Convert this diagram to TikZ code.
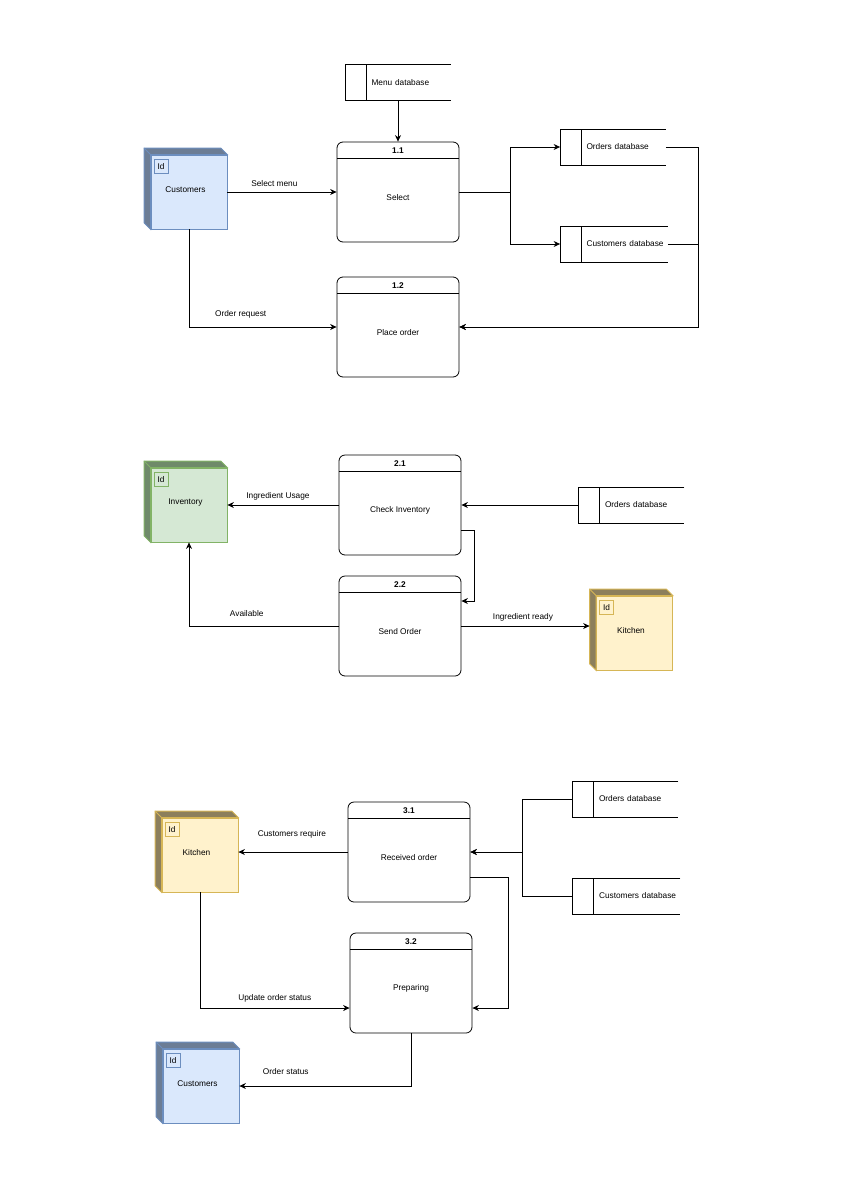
\documentclass[tikz,border=0pt]{standalone}
\usepackage{fontspec}
\setmainfont{Liberation Sans}
\usetikzlibrary{arrows.meta,positioning}

\definecolor{custfill}{HTML}{DAE8FC}
\definecolor{custedge}{HTML}{6C8EBF}
\definecolor{custside}{HTML}{6C7D95}
\definecolor{invfill}{HTML}{D5E8D4}
\definecolor{invedge}{HTML}{82B366}
\definecolor{invside}{HTML}{6F8A6A}
\definecolor{kitfill}{HTML}{FFF2CC}
\definecolor{kitedge}{HTML}{D6B656}
\definecolor{kitside}{HTML}{8C7F5C}

\tikzset{
  every node/.style={font=\fontsize{8.3}{10}\selectfont},
  procbox/.style 2 args={draw, rounded corners=6pt, minimum width=122pt, minimum height=100pt,
    path picture={\draw ([yshift=-16pt]path picture bounding box.north west) -- ([yshift=-16pt]path picture bounding box.north east);},
    label={[font=\fontsize{8.3}{10}\selectfont\bfseries, anchor=center, yshift=-8.7pt]north:#1},
    label={[anchor=center, yshift=-5.7pt]center:#2}},
  storebox/.style={text width=#1, inner sep=0pt, minimum height=35pt, align=left,
    execute at begin node={\hspace*{26pt}}},
  cubebox/.style n args={3}{draw=#2, fill=#3, line width=.8pt, minimum width=76pt, minimum height=74pt,
    label={[anchor=center, xshift=-3.5pt, yshift=2.8pt]center:#1}},
  idbox/.style={draw=#1, line width=.6pt, minimum size=14pt, inner sep=0pt},
  flowlabel/.style={above, inner sep=3pt}
}

\begin{document}
\begin{tikzpicture}[>={Stealth[length=6.5pt,width=6pt]}, on grid, line width=.8pt]
  \useasboundingbox (0,0) rectangle (842pt,-1191pt);
  % first group
  \node[procbox={1.1}{Select}] (p11) at (398pt,-192pt) {};
  \node[procbox={1.2}{Place order}] (p12) [below=135pt of p11] {};
  \node[cubebox={Customers}{custedge}{custfill}] (custa) [left=209pt of p11] {};
  \node[storebox=105pt] (menua) [above=109.5pt of p11] {Menu database};
  \node[storebox=105pt] (ordersa) [above right=45pt and 215pt of p11] {Orders database};
  \node[storebox=107pt] (customersa) [below right=97pt and 1pt of ordersa] {Customers database};
  \coordinate[right=112pt of p11] (junctiona);
  \coordinate[right=300pt of p12] (busa);
  % second group
  \node[procbox={2.1}{Check Inventory}] (p21) [below right=178pt and 2pt of p12] {};
  \node[procbox={2.2}{Send Order}] (p22) [below=121pt of p21] {};
  \node[cubebox={Inventory}{invedge}{invfill}] (inva) [left=211pt of p21] {};
  \node[storebox=105pt] (ordersb) [right=231.5pt of p21] {Orders database};
  \node[cubebox={Kitchen}{kitedge}{kitfill}] (kita) [below right=7pt and 234.5pt of p22] {};
  % third group
  \node[procbox={3.1}{Received order}] (p31) [below right=226pt and 9pt of p22] {};
  \node[procbox={3.2}{Preparing}] (p32) [below right=131pt and 2pt of p31] {};
  \node[cubebox={Kitchen}{kitedge}{kitfill}] (kitb) [below left=3pt and 209pt of p31] {};
  \node[cubebox={Customers}{custedge}{custfill}] (custb) [below left=103pt and 210pt of p32] {};
  \node[storebox=105pt] (ordersc) [above right=53pt and 216.5pt of p31] {Orders database};
  \node[storebox=107pt] (customersc) [below right=97pt and 1pt of ordersc] {Customers database};
  \coordinate[right=113pt of p31] (busb);

  % side faces and Id boxes of the cubes
  \foreach \n/\e/\s in {custa/custedge/custside, inva/invedge/invside, kita/kitedge/kitside,
                        kitb/kitedge/kitside, custb/custedge/custside} {
    \filldraw[draw=\e, fill=\s] (\n.north east) -- ++(-6.5pt,6.5pt) -| ([shift={(-6.5pt,6.5pt)}]\n.south west)
      -- (\n.south west) -- (\n.north west) -- cycle;
    \draw[\e] (\n.north west) -- ++(-6.5pt,6.5pt);
    \node[idbox=\e] (\n id) at ([shift={(10.5pt,-11.5pt)}]\n.north west) {Id};
  }
  % data stores
  \foreach \n in {menua, ordersa, customersa, ordersb, ordersc, customersc} {
    \draw (\n.north east) -- (\n.north west) -- (\n.south west) -- (\n.south east);
    \draw ([xshift=21pt]\n.north west) -- ([xshift=21pt]\n.south west);
  }

  \draw[->] (custa.east) -- node[flowlabel, pos=.43, yshift=2pt] {Select menu} (p11.west);
  \draw[->] (custa.south) |- node[flowlabel, pos=.675, yshift=5pt] {Order request} (p12.west);
  \draw[->] (menua.south) -- (p11.north);
  \draw[->] (p11.east) -- (junctiona) |- (ordersa.west);
  \draw[->] (junctiona) |- (customersa.west);
  \draw[->] (ordersa.east) -| (busa) -- (p12.east);
  \draw[->] (customersa.east) -| (busa) -- (p12.east);

  \draw[->] (p21.west) -- node[flowlabel, pos=.545, yshift=1pt] {Ingredient Usage} (inva.east);
  \draw[->] (ordersb.west) -- (p21.east);
  \draw[->] ([yshift=-25pt]p21.east) -- ++(13pt,0) |- ([yshift=25pt]p22.east);
  \draw[->] (p22.west) -| node[flowlabel, pos=.307, yshift=6pt] {Available} (inva.south);
  \draw[->] (p22.east) -- node[flowlabel, pos=.48, yshift=1pt] {Ingredient ready} ([xshift=-6.5pt]kita.west |- p22.east);

  \draw[->] (p31.west) -- node[flowlabel, pos=.51, yshift=10pt] {Customers require} (p31.west -| kitb.east);
  \draw[->] (ordersc.west) -| (busb) -- (p31.east);
  \draw[->] (customersc.west) -| (busb) -- (p31.east);
  \draw[->] ([yshift=-25pt]p31.east) -- ++(38pt,0) |- ([yshift=-25pt]p32.east);
  \draw[->] (kitb.south) |- node[flowlabel, pos=.75, yshift=2pt] {Update order status} ([yshift=-25pt]p32.west);
  \draw[->] (p32.south) |- node[flowlabel, pos=.865, yshift=8pt] {Order status} (custb.east);
\end{tikzpicture}
\end{document}
